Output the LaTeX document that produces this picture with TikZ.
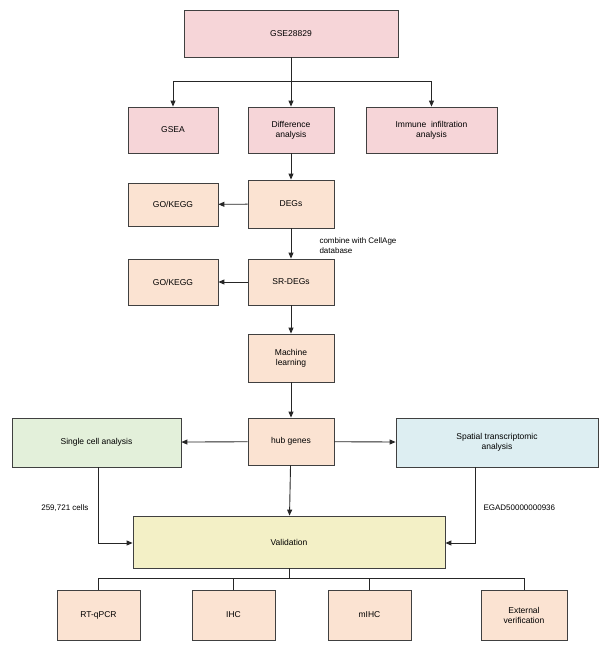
\documentclass[tikz,border=0pt]{standalone}
\usepackage{fontspec}
\setmainfont{Liberation Sans}
\usetikzlibrary{arrows.meta}
\definecolor{pinkf}{HTML}{F6D5D8}
\definecolor{peachf}{HTML}{FBE3D2}
\definecolor{greenf}{HTML}{E3F0DA}
\definecolor{bluef}{HTML}{DDEEF2}
\definecolor{yellowf}{HTML}{F3F0C6}
\definecolor{bord}{HTML}{404040}
\begin{document}
\begin{tikzpicture}[x=1pt,y=-1pt,font=\fontsize{8.5}{10}\selectfont,
  box/.style={draw=bord,line width=0.8pt,align=center,inner sep=0pt},
  arr/.style={-{Triangle[length=6pt,width=5pt]},line width=0.9pt,draw=black!85},
  ln/.style={line width=0.9pt,draw=black!85}]
\useasboundingbox (0,0) rectangle (611,649);
\newcommand{\bx}[7]{\node[box,fill=#6,minimum width=#4pt,minimum height=#5pt] (#1) at (#2,#3) {#7};}
\bx{gse}{291}{33.5}{214}{47}{pinkf}{GSE28829}
\bx{gsea}{173}{130}{90}{46}{pinkf}{GSEA}
\bx{diff}{291}{130}{86}{46}{pinkf}{Difference\\analysis}
\bx{imm}{431.5}{130}{131}{46}{pinkf}{Immune\ \ infiltration\\analysis}
\bx{degs}{291}{204}{86}{48}{peachf}{DEGs}
\bx{go1}{173}{204.5}{90}{43}{peachf}{GO/KEGG}
\bx{sr}{291}{282}{86}{46}{peachf}{SR-DEGs}
\bx{go2}{173}{282}{90}{46}{peachf}{GO/KEGG}
\bx{ml}{291}{358}{86}{48}{peachf}{Machine\\learning}
\bx{hub}{291}{441.5}{86}{47}{peachf}{hub genes}
\bx{sc}{96.5}{442.5}{169}{49}{greenf}{Single cell analysis}
\bx{sp}{497}{442.5}{202}{49}{bluef}{Spatial transcriptomic\\analysis}
\bx{val}{289}{542}{312}{52}{yellowf}{Validation}
\bx{rt}{98.5}{615}{83}{50}{peachf}{RT-qPCR}
\bx{ihc}{233.5}{615}{83}{50}{peachf}{IHC}
\bx{mihc}{369.5}{615}{83}{50}{peachf}{mIHC}
\bx{ext}{524}{615}{86}{50}{peachf}{External\\verification}
\coordinate (j1) at (291,81);
\draw[arr] (gse) -- (diff);
\draw[ln] (gsea.north|-j1) -- (imm.north|-j1);
\draw[arr] (gsea.north|-j1) -- (gsea.north);
\draw[arr] (imm.north|-j1) -- (imm.north);
\draw[arr] (diff) -- (degs);
\draw[arr] (degs) -- (go1);
\draw[arr] (degs) -- (sr);
\node[anchor=west,align=left,font=\fontsize{8}{10}\selectfont] (cmb) at (316,246) {combine with CellAge\\database};
\draw[arr] (sr) -- (go2);
\draw[arr] (sr) -- (ml);
\draw[arr] (ml) -- (hub);
\draw[arr] (hub) -- (sc);
\draw[arr] (hub) -- (sp);
\draw[arr] (hub) -- (val);
\coordinate (c1) at (98,543);
\coordinate (c2) at (475,543);
\draw[arr] (sc.south-|c1) -- (c1) -- (val.west|-c1);
\draw[arr] (sp.south-|c2) -- (c2) -- (val.east|-c2);
\node[anchor=east,font=\fontsize{8}{10}\selectfont] (cells) at (92,508) {259,721 cells};
\node[anchor=west,font=\fontsize{8}{10}\selectfont] (egad) at (480,508) {EGAD50000000936};
\coordinate (j2) at (289,578);
\draw[ln] (val) -- (j2);
\draw[ln] (rt.north|-j2) -- (ext.north|-j2);
\foreach \n in {rt,ihc,mihc,ext} \draw[ln] (\n.north|-j2) -- (\n.north);
\end{tikzpicture}
\end{document}
